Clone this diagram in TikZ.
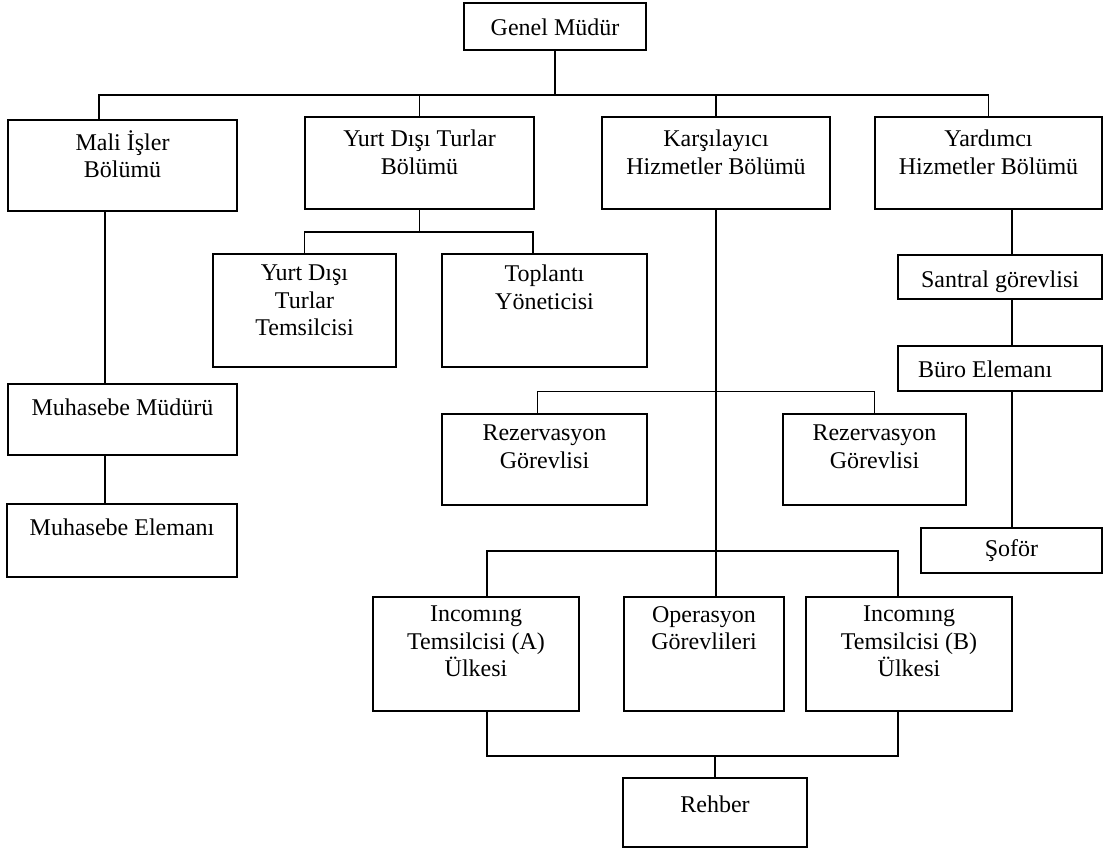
\documentclass[tikz,border=0pt]{standalone}
\usepackage{fontspec}
\setmainfont{Liberation Serif}
\begin{document}
\begin{tikzpicture}[x=1pt,y=-1pt,
  box/.style={draw, line width=1.8pt, inner sep=0pt, rectangle},
  lbl/.style={anchor=north, inner sep=0pt, align=center,
    font=\fontsize{24}{27.5}\selectfont,
    execute at begin node={\rule{0pt}{22pt}}},
  conn/.style={line width=1.8pt}]
\useasboundingbox (0,0) rectangle (1105,848);

% ---- boxes ----
\node[box, minimum width=182pt, minimum height=47pt] (genel)  at (555,26.5)   {};
\node[box, minimum width=229pt, minimum height=91pt] (mali)   at (122.5,165.5) {};
\node[box, minimum width=229pt, minimum height=92pt] (yurtb)  at (419.5,163)  {};
\node[box, minimum width=228pt, minimum height=92pt] (kars)   at (716,163)    {};
\node[box, minimum width=227pt, minimum height=92pt] (yard)   at (988.5,163)  {};
\node[box, minimum width=183pt, minimum height=113pt] (yt)    at (304.5,310.5) {};
\node[box, minimum width=205pt, minimum height=113pt] (topl)  at (544.5,310.5) {};
\node[box, minimum width=204pt, minimum height=44pt] (sant)   at (1000,277)   {};
\node[box, minimum width=204pt, minimum height=45pt] (buro)   at (1000,368.5) {};
\node[box, minimum width=229pt, minimum height=71pt] (mm)     at (122.5,419.5) {};
\node[box, minimum width=205pt, minimum height=91pt] (rezl)   at (544.5,459.5) {};
\node[box, minimum width=183pt, minimum height=91pt] (rezr)   at (874.5,459.5) {};
\node[box, minimum width=230pt, minimum height=73pt] (me)     at (122,540.5)  {};
\node[box, minimum width=181pt, minimum height=45pt] (sof)    at (1011.5,550.5) {};
\node[box, minimum width=206pt, minimum height=114pt] (inca)  at (476,654)    {};
\node[box, minimum width=160pt, minimum height=114pt] (oper)  at (704,654)    {};
\node[box, minimum width=206pt, minimum height=114pt] (incb)  at (909,654)    {};
\node[box, minimum width=184pt, minimum height=69pt] (rehber) at (715,812.5)  {};

% ---- labels ----
\node[lbl] (genel-t)  at (555,13)    {Genel Müdür};
\node[lbl] (mali-t)   at (122.5,130) {Mali İşler\\Bölümü};
\node[lbl] (yurtb-t)  at (419.5,130) {Yurt Dışı Turlar\\Bölümü};
\node[lbl] (kars-t)   at (716,130)   {Karşılayıcı\\Hizmetler Bölümü};
\node[lbl] (yard-t)   at (988.5,130) {Yardımcı\\Hizmetler Bölümü};
\node[lbl] (yt-t)     at (304.5,265) {Yurt Dışı\\Turlar\\Temsilcisi};
\node[lbl] (topl-t)   at (544.5,265) {Toplantı\\Yöneticisi};
\node[lbl] (sant-t)   at (1000,265)  {Santral görevlisi};
\node[lbl, anchor=north west] (buro-t) at (918,355) {Büro Elemanı};
\node[lbl] (mm-t)     at (122.5,393) {Muhasebe Müdürü};
\node[lbl] (rezl-t)   at (544.5,425) {Rezervasyon\\Görevlisi};
\node[lbl] (rezr-t)   at (874.5,425) {Rezervasyon\\Görevlisi};
\node[lbl] (me-t)     at (122,513)   {Muhasebe Elemanı};
\node[lbl] (sof-t)    at (1011.5,534) {Şoför};
\node[lbl] (inca-t)   at (476,606)   {Incomıng\\Temsilcisi (A)\\Ülkesi};
\node[lbl] (oper-t)   at (704,606)   {Operasyon\\Görevlileri};
\node[lbl] (incb-t)   at (909,606)   {Incomıng\\Temsilcisi (B)\\Ülkesi};
\node[lbl] (rehber-t) at (715,790)   {Rehber};

% ---- bus levels ----
\coordinate (b1) at (0,95);
\coordinate (b2) at (0,232);
\coordinate (b3) at (0,391.5);
\coordinate (b4) at (0,551);
\coordinate (b5) at (0,756);

% ---- attachment points off the box centres ----
\coordinate (maliin)  at ([xshift=-23.5pt]mali.north);
\coordinate (maliout) at ([xshift=-17.5pt]mali.south);
\coordinate (mmout)   at ([xshift=-17.5pt]mm.south);
\coordinate (toplin)  at ([xshift=-11.5pt]topl.north);
\coordinate (rezlin)  at ([xshift=-7pt]rezl.north);
\coordinate (incain)  at ([xshift=11pt]inca.north);
\coordinate (incbin)  at ([xshift=-11pt]incb.north);
\coordinate (incaout) at ([xshift=11pt]inca.south);
\coordinate (incbout) at ([xshift=-11pt]incb.south);
\coordinate (yardout) at ([xshift=23.5pt]yard.south);

% ---- top level ----
\draw[conn] (genel.south) -- (genel.south |- b1);
\draw[conn] (maliin) |- (b1 -| yard.north) -- (yard.north);
\draw[conn] (yurtb.north) -- (yurtb.north |- b1);
\draw[conn] (kars.north) -- (kars.north |- b1);

% ---- Mali İşler branch ----
\draw[conn] (maliout) -- (maliout |- mm.north);
\draw[conn] (mmout) -- (mmout |- me.north);

% ---- Yurt Dışı Turlar branch ----
\draw[conn] (yurtb.south) -- (yurtb.south |- b2);
\draw[conn] (yt.north) |- (b2 -| toplin) -- (toplin);

% ---- Karşılayıcı branch ----
\draw[conn] (kars.south) -- (kars.south |- oper.north);
\draw[conn] (rezlin) |- (b3 -| rezr.north) -- (rezr.north);
\draw[conn] (incain) |- (b4 -| incbin) -- (incbin);
\draw[conn] (incaout) |- (b5 -| incbout) -- (incbout);
\draw[conn] (rehber.north) -- (rehber.north |- b5);

% ---- Yardımcı branch ----
\draw[conn] (yardout) -- (yardout |- sant.north);
\draw[conn] (yardout |- sant.south) -- (yardout |- buro.north);
\draw[conn] (yardout |- buro.south) -- (yardout |- sof.north);
\end{tikzpicture}
\end{document}
